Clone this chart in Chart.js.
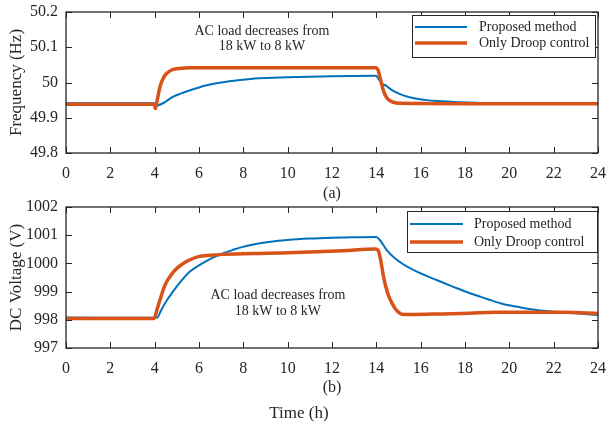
<!DOCTYPE html>
<html><head><meta charset="utf-8">
<script src="https://cdn.jsdelivr.net/npm/chart.js@4.4.1/dist/chart.umd.min.js"></script>
<style>
html,body{margin:0;padding:0;background:#fff;width:613px;height:424px;overflow:hidden}
canvas{position:absolute;left:0}
#c1{top:0}
#c2{top:195px}
</style></head><body>
<canvas id="c1" width="613" height="203"></canvas>
<canvas id="c2" width="613" height="229"></canvas>
<script>
// ---- data ----
const seriesNames = ['Proposed method', 'Only Droop control'];
const xTicks = [0, 2, 4, 6, 8, 10, 12, 14, 16, 18, 20, 22, 24];
const freqTicks = [49.8, 49.9, 50, 50.1, 50.2];
const voltTicks = [997, 998, 999, 1000, 1001, 1002];

// (a) Frequency (Hz)
const freqPropT = [0, 3.98, 4.06, 4.15, 4.3, 4.5, 4.84, 5.2, 5.6, 6, 6.35, 7, 7.85, 8.67, 10, 12, 13.98, 14.1, 14.24, 14.46, 14.69, 15.07, 15.5, 16.27, 17, 17.8, 19, 24];
const freqPropV = [49.941, 49.941, 49.934, 49.935, 49.939, 49.946, 49.960, 49.969, 49.978, 49.986, 49.992, 50.000, 50.007, 50.012, 50.015, 50.018, 50.019, 50.010, 49.998, 49.990, 49.979, 49.967, 49.958, 49.950, 49.947, 49.944, 49.942, 49.942];
const freqDroopT = [0, 3.98, 4.03, 4.1, 4.24, 4.35, 4.47, 4.65, 4.84, 5.1, 5.6, 6, 10, 13.98, 14.08, 14.16, 14.31, 14.42, 14.54, 14.76, 15.07, 18, 24];
const freqDroopV = [49.938, 49.938, 49.926, 49.945, 49.988, 50.007, 50.021, 50.031, 50.037, 50.040, 50.042, 50.042, 50.042, 50.042, 50.035, 50.016, 49.979, 49.962, 49.952, 49.944, 49.941, 49.940, 49.940];

// (b) DC Voltage (V)
const voltPropT = [0, 3.98, 4.1, 4.3, 4.5, 4.84, 5.2, 5.59, 6, 6.35, 6.7, 7.1, 7.5, 7.85, 8.4, 9.05, 10, 11, 12, 13, 14, 14.16, 14.46, 14.84, 15.21, 15.9, 16.72, 17.5, 18.22, 19, 19.72, 20.5, 21.23, 22, 22.73, 23.4, 24];
const voltPropV = [998.08, 998.07, 998.07, 998.35, 998.63, 999.02, 999.38, 999.71, 999.93, 1000.09, 1000.23, 1000.36, 1000.47, 1000.56, 1000.66, 1000.75, 1000.83, 1000.88, 1000.91, 1000.93, 1000.94, 1000.83, 1000.48, 1000.18, 999.97, 999.68, 999.41, 999.16, 998.94, 998.74, 998.56, 998.44, 998.35, 998.29, 998.25, 998.21, 998.17];
const voltDroopT = [0, 3.98, 4.1, 4.24, 4.4, 4.54, 4.8, 5.05, 5.29, 5.6, 5.97, 6.5, 7.1, 9.05, 11, 12.5, 13.98, 14.09, 14.2, 14.31, 14.42, 14.54, 14.7, 14.84, 15.0, 15.14, 15.6, 17, 18.2, 19.3, 21, 22.5, 24];
const voltDroopV = [998.05, 998.05, 998.35, 998.70, 999.10, 999.35, 999.65, 999.86, 1000.00, 1000.13, 1000.24, 1000.29, 1000.32, 1000.36, 1000.40, 1000.45, 1000.51, 1000.45, 1000.10, 999.59, 999.20, 998.88, 998.60, 998.41, 998.27, 998.20, 998.19, 998.21, 998.23, 998.27, 998.27, 998.27, 998.22];

// ---- styling ----
const SERIF = '"Liberation Serif", "Times New Roman", serif';
const AX = '#262626';
const BLUE = '#0072BD';
const ORANGE = '#D95319';

const zip = (t, v) => t.map((x, i) => ({x: x, y: v[i]}));

const framePlugin = {
  id: 'frame',
  afterDatasetsDraw(chart, args, o) {
    const ctx = chart.ctx, a = chart.chartArea;
    const xs = chart.scales.x, ys = chart.scales.y;
    ctx.save();
    ctx.strokeStyle = AX;
    ctx.lineWidth = 1.3;
    ctx.strokeRect(a.left, a.top, a.right - a.left, a.bottom - a.top);
    ctx.lineWidth = 1;
    const TL = 6;
    ctx.beginPath();
    xs.ticks.forEach(t => {
      const px = Math.round(xs.getPixelForValue(t.value)) + 0.5;
      ctx.moveTo(px, a.bottom); ctx.lineTo(px, a.bottom - TL);
      ctx.moveTo(px, a.top); ctx.lineTo(px, a.top + TL);
    });
    ys.ticks.forEach(t => {
      const py = Math.round(ys.getPixelForValue(t.value)) + 0.5;
      ctx.moveTo(a.left, py); ctx.lineTo(a.left + TL, py);
      ctx.moveTo(a.right, py); ctx.lineTo(a.right - TL, py);
    });
    ctx.stroke();

    // annotation text
    ctx.fillStyle = AX;
    ctx.font = '14px ' + SERIF;
    ctx.textAlign = 'center';
    ctx.textBaseline = 'middle';
    const ax = xs.getPixelForValue(o.noteX);
    o.noteLines.forEach((s, i) => {
      ctx.fillText(s, ax, ys.getPixelForValue(o.noteY) + i * o.noteGap);
    });

    // legend
    const L = o.legend;
    ctx.fillStyle = '#fff';
    ctx.fillRect(L.x, L.y, L.w, L.h);
    ctx.strokeStyle = AX;
    ctx.lineWidth = 1;
    ctx.strokeRect(L.x + 0.5, L.y + 0.5, L.w, L.h);
    ctx.textAlign = 'left';
    chart.data.datasets.forEach((ds, i) => {
      const yy = L.y + L.row0 + i * L.rowGap;
      ctx.strokeStyle = ds.borderColor;
      ctx.lineWidth = ds.borderWidth;
      ctx.beginPath();
      ctx.moveTo(L.x + L.lx0, yy); ctx.lineTo(L.x + L.lx1, yy);
      ctx.stroke();
      ctx.fillStyle = AX;
      ctx.font = '14px ' + SERIF;
      ctx.fillText(ds.label, L.x + L.tx, yy);
    });
    ctx.restore();
  }
};

function makeChart(id, cfg) {
  return new Chart(document.getElementById(id), {
    type: 'line',
    data: {
      datasets: [
        {label: seriesNames[0], data: cfg.prop, borderColor: BLUE, borderWidth: 2, pointRadius: 0, cubicInterpolationMode: 'monotone', order: 1},
        {label: seriesNames[1], data: cfg.droop, borderColor: ORANGE, borderWidth: 3.5, pointRadius: 0, cubicInterpolationMode: 'monotone', order: 0}
      ]
    },
    options: {
      responsive: false,
      animation: false,
      devicePixelRatio: 1,
      layout: {padding: {top: 12, right: 15, left: 0, bottom: 0}},
      plugins: {
        legend: {display: false},
        tooltip: {enabled: false},
        title: cfg.bottomTitle ? {display: true, position: 'bottom', text: cfg.bottomTitle, color: AX, font: {family: SERIF, size: 17, weight: 'normal', lineHeight: 1.2}, padding: 0} : {display: false},
        frame: cfg.frame
      },
      scales: {
        x: {
          type: 'linear', min: 0, max: 24,
          afterBuildTicks: s => { s.ticks = xTicks.map(v => ({value: v})); },
          ticks: {color: AX, font: {family: SERIF, size: 16}, padding: 11, maxRotation: 0, autoSkip: false},
          grid: {display: false, drawTicks: false},
          border: {display: false},
          title: {display: true, text: cfg.xTitle, color: AX, font: {family: SERIF, size: 16, lineHeight: 1.2}, padding: {top: 0, bottom: cfg.xTitlePad}},
          afterFit: s => { s.height = cfg.xH; s.paddingLeft = 0; s.paddingRight = 0; }
        },
        y: {
          type: 'linear', min: cfg.yTicks[0], max: cfg.yTicks[cfg.yTicks.length - 1],
          afterBuildTicks: s => { s.ticks = cfg.yTicks.map(v => ({value: v})); },
          ticks: {color: AX, font: {family: SERIF, size: 16}, padding: 8, callback: v => String(v)},
          grid: {display: false, drawTicks: false},
          border: {display: false},
          title: {display: true, text: cfg.yTitle, color: AX, font: {family: SERIF, size: 17, lineHeight: 1.2}, padding: {top: 6, bottom: 0}},
          afterFit: s => { s.width = 66; s.paddingTop = 0; s.paddingBottom = 0; }
        }
      }
    },
    plugins: [framePlugin]
  });
}

makeChart('c1', {
  xH: 50, xTitle: '(a)', xTitlePad: 0, yTitle: 'Frequency (Hz)', yTicks: freqTicks,
  prop: zip(freqPropT, freqPropV), droop: zip(freqDroopT, freqDroopV),
  frame: {noteX: 8.84, noteY: 50.145, noteGap: 15, noteLines: ['AC load decreases from', '18 kW to 8 kW'],
    legend: {x: 412, y: 15, w: 183, h: 42, row0: 12, rowGap: 16, lx0: 3, lx1: 55, tx: 67}}
});
makeChart('c2', {
  xH: 55.6, xTitle: '(b)', xTitlePad: 6, yTitle: 'DC Voltage (V)', yTicks: voltTicks, bottomTitle: 'Time (h)',
  prop: zip(voltPropT, voltPropV), droop: zip(voltDroopT, voltDroopV),
  frame: {noteX: 9.56, noteY: 998.88, noteGap: 16, noteLines: ['AC load decreases from', '18 kW to 8 kW'],
    legend: {x: 407, y: 16, w: 190, h: 41, row0: 13, rowGap: 18, lx0: 3, lx1: 56, tx: 67}}
});
</script>
</body></html>
